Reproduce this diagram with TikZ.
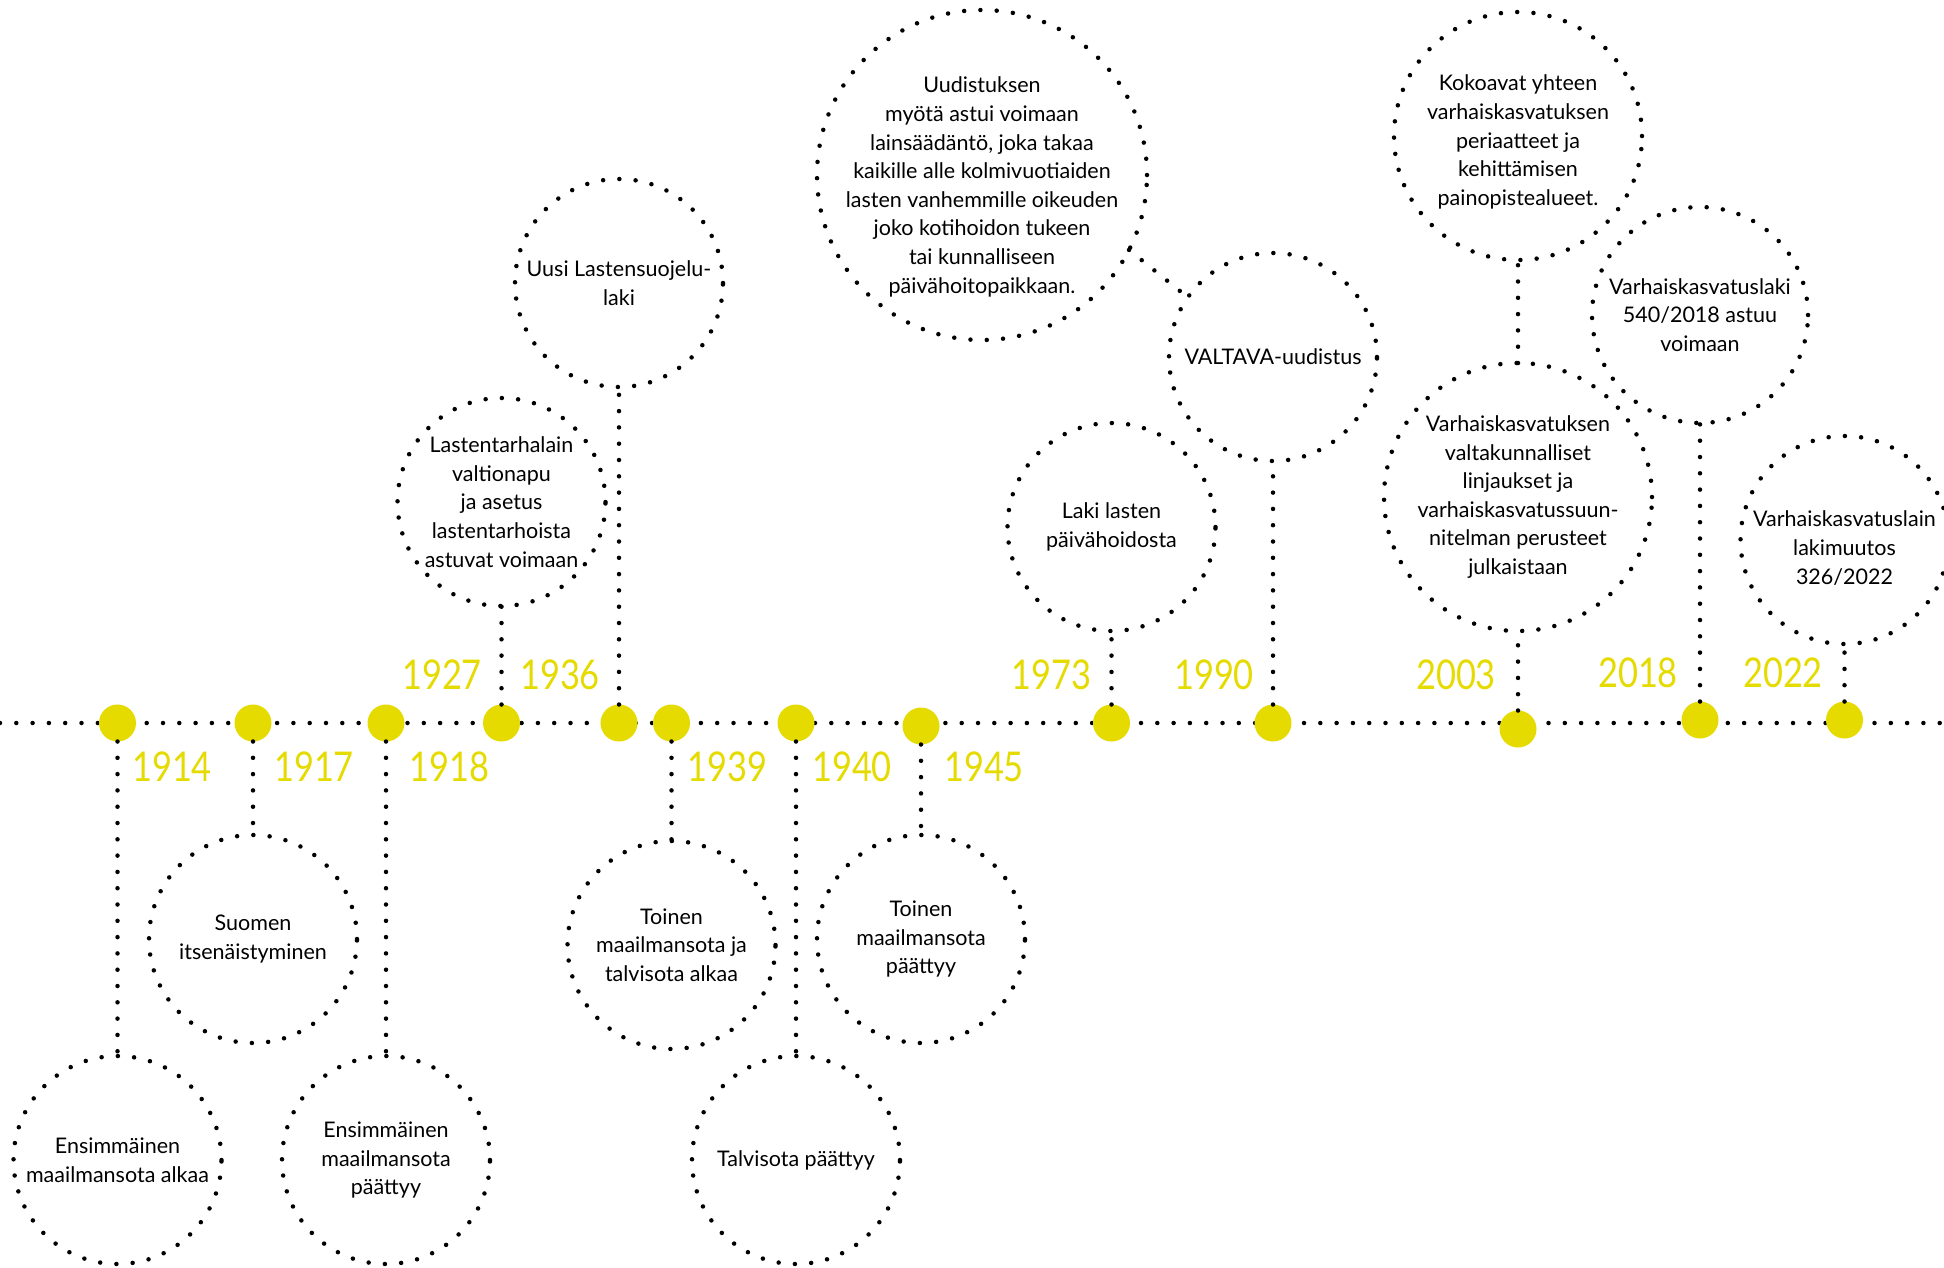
\documentclass[tikz,border=0pt]{standalone}
\usepackage{fontspec}
\setmainfont{Lato}
\newfontfamily\yearfont[FakeStretch=0.84]{Lato}
\definecolor{tlyellow}{RGB}{229,219,0}
\tikzset{
  dotline/.style={line width=4.5pt, dash pattern=on 0pt off 16.3pt, line cap=round, black},
  bubble/.style={circle, draw, dotline, inner sep=0pt, outer sep=0pt},
  ydot/.style={circle, fill=tlyellow, inner sep=0pt, outer sep=0pt, minimum size=37pt},
  txt/.style={align=center, inner sep=0pt, font=\fontsize{21.5}{28.6}\selectfont},
  yr/.style={inner sep=0pt, text=tlyellow, font=\yearfont\fontsize{41}{41}\selectfont},
}
\begin{document}
\begin{tikzpicture}[x=1pt,y=-1pt]
\useasboundingbox[fill=white] (0,0) rectangle (1944,1267);
% timeline
\coordinate (L) at (0,723);
\coordinate (R) at (1950,723);
\draw[dotline] (L) -- (R);
% yellow dots
\node[ydot] (t1914) at (117.5,723) {};
\node[ydot] (t1917) at (253,723) {};
\node[ydot] (t1918) at (386,723) {};
\node[ydot] (t1927) at (501.5,723) {};
\node[ydot] (t1936) at (619,723) {};
\node[ydot] (t1939) at (671.5,723) {};
\node[ydot] (t1940) at (796,723) {};
\node[ydot] (t1945) at (921,726) {};
\node[ydot] (t1973) at (1111.5,723) {};
\node[ydot] (t1990) at (1273,723) {};
\node[ydot] (t2003) at (1518,729) {};
\node[ydot] (t2018) at (1700,720) {};
\node[ydot] (t2022) at (1844.5,720) {};
% year labels
\node[yr] (y1914) at (172,767) {1914};
\node[yr] (y1917) at (314,767) {1917};
\node[yr] (y1918) at (449.5,767) {1918};
\node[yr] (y1927) at (442,675) {1927};
\node[yr] (y1936) at (560,675) {1936};
\node[yr] (y1939) at (727.5,767) {1939};
\node[yr] (y1940) at (852,767) {1940};
\node[yr] (y1945) at (984,767) {1945};
\node[yr] (y1973) at (1051.5,675) {1973};
\node[yr] (y1990) at (1214,675) {1990};
\node[yr] (y2003) at (1456,675) {2003};
\node[yr] (y2018) at (1638,672.5) {2018};
\node[yr] (y2022) at (1783,672.5) {2022};
% bubbles
\node[bubble, minimum size=208pt] (b1) at (117.5,1160) {};
\node[bubble, minimum size=208pt] (b2) at (253,939) {};
\node[bubble, minimum size=208pt] (b3) at (386,1160) {};
\node[bubble, minimum size=208pt] (b4) at (501.5,502) {};
\node[bubble, minimum size=208pt] (b5) at (619,283) {};
\node[bubble, minimum size=208pt] (b6) at (671.5,945) {};
\node[bubble, minimum size=208pt] (b7) at (796,1160) {};
\node[bubble, minimum size=208pt] (b8) at (921,939) {};
\node[bubble, minimum size=330pt] (b9) at (982,175) {};
\node[bubble, minimum size=208pt] (b10) at (1111.5,527) {};
\node[bubble, minimum size=208pt] (b11) at (1273,357) {};
\node[bubble, minimum size=248pt] (b12) at (1518,136) {};
\node[bubble, minimum size=268pt] (b13) at (1518,497) {};
\node[bubble, minimum size=216pt] (b14) at (1700,315) {};
\node[bubble, minimum size=208pt] (b15) at (1844.5,540) {};
% texts
\node[txt] (x1) at (b1) {Ensimmäinen\\maailmansota alkaa};
\node[txt] (x2) at (b2) {Suomen\\itsenäistyminen};
\node[txt] (x3) at (b3) {Ensimmäinen\\maailmansota\\päättyy};
\node[txt] (x4) at (b4) {Lastentarhalain\\valtionapu\\ja asetus\\lastentarhoista\\astuvat voimaan};
\node[txt] (x5) at (b5) {Uusi Lastensuojelu-\\laki};
\node[txt] (x6) at (b6) {Toinen\\maailmansota ja\\talvisota alkaa};
\node[txt] (x7) at (b7) {Talvisota päättyy};
\node[txt] (x8) at (b8) {Toinen\\maailmansota\\päättyy};
\node[txt, yshift=-12pt] (x9) at (b9) {Uudistuksen\\myötä astui voimaan\\lainsäädäntö, joka takaa\\kaikille alle kolmivuotiaiden\\lasten vanhemmille oikeuden\\joko kotihoidon tukeen\\tai kunnalliseen\\päivähoitopaikkaan.};
\node[txt] (x10) at (b10) {Laki lasten\\päivähoidosta};
\node[txt] (x11) at (b11) {VALTAVA-uudistus};
\node[txt, yshift=-6pt] (x12) at (b12) {Kokoavat yhteen\\varhaiskasvatuksen\\periaatteet ja\\kehittämisen\\painopistealueet.};
\node[txt] (x13) at (b13) {Varhaiskasvatuksen\\valtakunnalliset\\linjaukset ja\\varhaiskasvatussuun-\\nitelman perusteet\\julkaistaan};
\node[txt] (x14) at (b14) {Varhaiskasvatuslaki\\540/2018 astuu\\voimaan};
\node[txt, yshift=-8pt] (x15) at (b15) {Varhaiskasvatuslain\\lakimuutos\\326/2022};
% connectors
\draw[dotline] (t1914) -- (b1);
\draw[dotline] (t1917) -- (b2);
\draw[dotline] (t1918) -- (b3);
\draw[dotline] (t1927) -- (b4);
\draw[dotline] (t1936) -- (b5);
\draw[dotline] (t1939) -- (b6);
\draw[dotline] (t1940) -- (b7);
\draw[dotline] (t1945) -- (b8);
\draw[dotline] (t1973) -- (b10);
\draw[dotline] (t1990) -- (b11);
\draw[dotline] (t2003) -- (b13);
\draw[dotline] (b13) -- (b12);
\draw[dotline] (t2018) -- (b14);
\draw[dotline] (t2022) -- (b15);
\draw[dotline] (b9.-27) -- (b11.145);
\end{tikzpicture}
\end{document}
